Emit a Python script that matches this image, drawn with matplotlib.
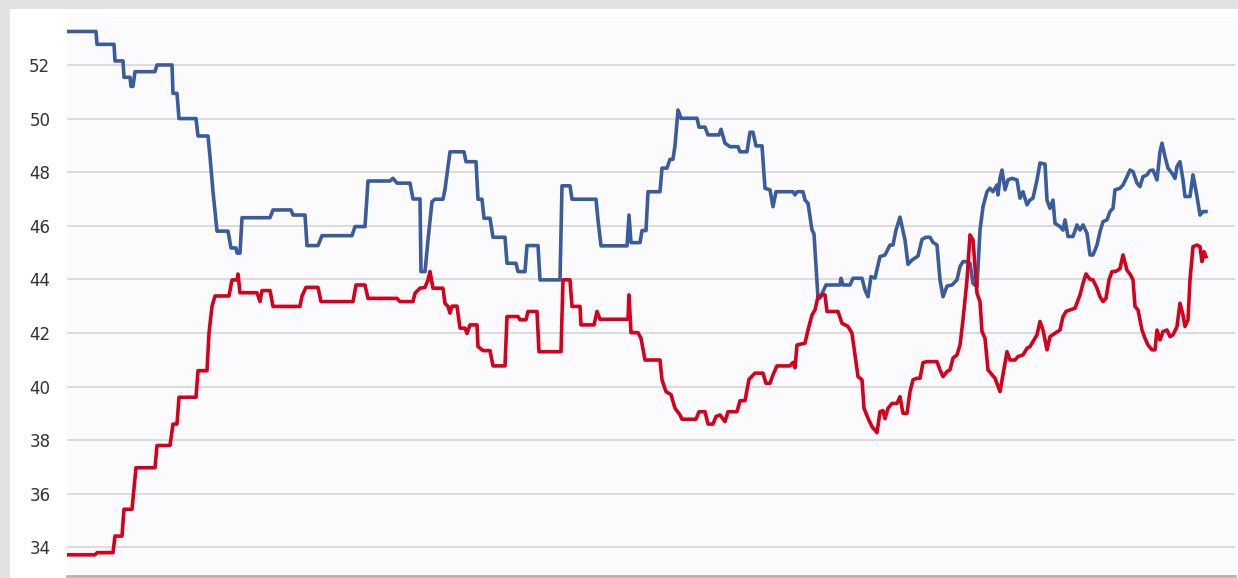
import matplotlib.pyplot as plt
from matplotlib.patches import Rectangle

# day index along the x axis
blue_days = [0, 29, 30, 47, 48, 56, 57, 63, 64, 66, 68, 88, 90, 105, 106, 110, 112, 129, 131, 141,
             143, 146, 150, 161, 164, 169, 170, 173, 175, 203, 206, 224, 226, 238, 240, 251, 255, 285,
             288, 298, 301, 323, 326, 330, 343, 346, 353, 354, 358, 361, 365, 368, 376, 378, 383, 397,
             399, 409, 411, 415, 417, 423, 426, 438, 440, 449, 451, 458, 460, 471, 473, 493, 495, 503,
             505, 529, 531, 534, 560, 562, 564, 573, 575, 579, 581, 593, 595, 600, 603, 606, 608, 611,
             614, 630, 632, 638, 641, 652, 654, 658, 663, 671, 673, 680, 683, 686, 689, 695, 698, 703,
             706, 709, 726, 728, 730, 736, 738, 741, 745, 747, 751, 753, 759, 773, 774, 776, 783, 786,
             795, 798, 801, 804, 808, 813, 818, 823, 826, 829, 833, 838, 841, 845, 851, 855, 859, 863,
             866, 870, 873, 876, 880, 885, 890, 893, 896, 900, 903, 906, 910, 913, 916, 920, 923, 926,
             930, 931, 933, 935, 938, 941, 945, 950, 953, 956, 960, 963, 966, 970, 973, 978, 980, 983,
             986, 988, 993, 996, 998, 1001, 1006, 1010, 1013, 1016, 1020, 1023, 1026, 1030, 1033, 1036,
             1040, 1043, 1046, 1048, 1053, 1056, 1060, 1063, 1066, 1070, 1073, 1076, 1080, 1083, 1086,
             1090, 1093, 1095, 1098, 1101, 1105, 1108, 1110, 1113, 1116, 1118, 1123, 1126, 1130, 1133,
             1136, 1139]
blue = [53.25, 53.25, 52.77, 52.77, 52.15, 52.15, 51.54, 51.54, 51.2, 51.2, 51.75, 51.75, 52.0, 52.0,
        50.94, 50.94, 50.0, 50.0, 49.35, 49.35, 48.58, 47.27, 45.8, 45.8, 45.17, 45.17, 44.98, 44.98,
        46.3, 46.3, 46.59, 46.59, 46.4, 46.4, 45.26, 45.26, 45.63, 45.63, 45.97, 45.97, 47.67, 47.67,
        47.77, 47.59, 47.59, 47.0, 47.0, 44.29, 44.29, 45.47, 46.9, 46.99, 46.99, 47.36, 48.76, 48.76,
        48.39, 48.39, 46.99, 46.99, 46.28, 46.28, 45.57, 45.57, 44.6, 44.6, 44.29, 44.29, 45.26, 45.26,
        43.98, 43.98, 47.49, 47.49, 46.99, 46.99, 46.22, 45.25, 45.25, 46.4, 45.37, 45.37, 45.82, 45.82,
        47.27, 47.27, 48.15, 48.15, 48.48, 48.48, 48.99, 50.32, 50.01, 50.01, 49.68, 49.68, 49.39, 49.39,
        49.6, 49.08, 48.95, 48.95, 48.76, 48.76, 49.49, 49.49, 48.98, 48.98, 47.4, 47.34, 46.71, 47.27,
        47.27, 47.15, 47.27, 47.27, 46.96, 46.84, 45.84, 45.7, 43.3, 43.3, 43.79, 43.79, 44.04, 43.79,
        43.79, 44.04, 44.04, 43.6, 43.35, 44.1, 44.05, 44.85, 44.91, 45.28, 45.28, 45.84, 46.32, 45.47,
        44.56, 44.72, 44.87, 45.49, 45.57, 45.57, 45.38, 45.28, 43.98, 43.35, 43.75, 43.79, 43.98, 44.48,
        44.66, 44.66, 44.6, 43.85, 43.73, 45.84, 46.71, 47.27, 47.4, 47.27, 47.52, 47.15, 47.77, 48.08,
        47.34, 47.71, 47.77, 47.71, 47.03, 47.27, 46.78, 46.96, 47.03, 47.71, 48.34, 48.3, 46.96, 46.65,
        46.96, 46.09, 45.97, 45.84, 46.22, 45.6, 45.6, 46.03, 45.84, 46.03, 45.72, 44.91, 44.91, 45.28,
        45.78, 46.15, 46.22, 46.53, 46.65, 47.34, 47.4, 47.52, 47.83, 48.08, 48.02, 47.59, 47.46, 47.83,
        47.9, 48.06, 48.08, 47.71, 48.76, 49.08, 48.58, 48.15, 47.96, 47.77, 48.21, 48.39, 47.71, 47.09,
        47.09, 47.9, 47.09, 46.4, 46.53, 46.53]

red_days = [0, 28, 30, 46, 48, 55, 57, 65, 69, 88, 90, 103, 106, 110, 112, 129, 131, 140, 142, 145,
            148, 162, 165, 170, 171, 173, 190, 193, 195, 203, 206, 233, 235, 239, 251, 254, 286, 289,
            298, 301, 330, 333, 346, 348, 353, 358, 361, 363, 366, 376, 378, 381, 383, 385, 390, 393,
            398, 400, 403, 410, 411, 416, 423, 426, 438, 440, 451, 453, 459, 461, 470, 472, 494, 496,
            503, 505, 513, 514, 527, 530, 533, 561, 562, 564, 571, 574, 578, 593, 595, 599, 604, 608,
            613, 615, 629, 632, 638, 641, 646, 649, 653, 658, 661, 670, 673, 678, 682, 688, 696, 699,
            703, 706, 710, 723, 726, 728, 730, 738, 741, 745, 748, 751, 755, 758, 760, 771, 775, 781,
            785, 791, 795, 797, 801, 805, 810, 813, 816, 818, 821, 825, 830, 833, 836, 840, 843, 846,
            850, 853, 856, 860, 870, 873, 876, 880, 883, 886, 890, 893, 896, 900, 903, 906, 910, 913,
            915, 918, 921, 925, 928, 933, 936, 940, 943, 948, 951, 956, 960, 963, 966, 970, 973, 976,
            980, 983, 988, 993, 996, 999, 1003, 1008, 1013, 1016, 1019, 1023, 1026, 1030, 1033, 1036,
            1039, 1042, 1045, 1049, 1053, 1056, 1060, 1063, 1066, 1068, 1071, 1075, 1078, 1081, 1085,
            1088, 1090, 1093, 1096, 1100, 1103, 1106, 1110, 1113, 1116, 1118, 1121, 1123, 1126, 1130,
            1133, 1135, 1137, 1139]
red = [33.72, 33.72, 33.8, 33.8, 34.42, 34.42, 35.42, 35.42, 36.97, 36.97, 37.8, 37.8, 38.6, 38.6,
       39.6, 39.6, 40.59, 40.59, 41.99, 42.99, 43.38, 43.38, 43.98, 43.98, 44.2, 43.5, 43.5, 43.17,
       43.58, 43.58, 42.99, 42.99, 43.38, 43.7, 43.7, 43.17, 43.17, 43.79, 43.79, 43.29, 43.29, 43.17,
       43.17, 43.48, 43.67, 43.7, 43.98, 44.29, 43.67, 43.67, 43.1, 42.99, 42.74, 43.0, 43.0, 42.18,
       42.18, 41.98, 42.3, 42.3, 41.49, 41.34, 41.34, 40.77, 40.77, 42.61, 42.61, 42.49, 42.49, 42.8,
       42.8, 41.3, 41.3, 43.98, 43.98, 42.99, 42.99, 42.3, 42.3, 42.8, 42.51, 42.51, 43.42, 42.01,
       42.01, 41.8, 40.99, 40.99, 40.25, 39.81, 39.7, 39.19, 38.94, 38.78, 38.78, 39.06, 39.06, 38.6,
       38.6, 38.88, 38.94, 38.69, 39.06, 39.06, 39.47, 39.47, 40.27, 40.5, 40.5, 40.12, 40.12, 40.44,
       40.77, 40.77, 40.9, 40.7, 41.55, 41.62, 42.11, 42.67, 42.86, 43.35, 43.42, 43.42, 42.8, 42.8,
       42.36, 42.24, 41.99, 40.37, 40.25, 39.19, 38.82, 38.5, 38.28, 39.06, 39.1, 38.8, 39.19, 39.37,
       39.37, 39.62, 39.0, 39.0, 39.81, 40.25, 40.31, 40.31, 40.89, 40.93, 40.93, 40.62, 40.37, 40.56,
       40.62, 41.06, 41.18, 41.55, 42.49, 43.98, 45.66, 45.47, 43.48, 43.17, 42.05, 41.8, 40.62, 40.44,
       40.31, 39.81, 40.44, 41.3, 40.99, 40.99, 41.12, 41.18, 41.43, 41.49, 41.68, 41.93, 42.43, 42.11,
       41.37, 41.86, 41.99, 42.11, 42.61, 42.8, 42.86, 42.92, 43.42, 43.85, 44.2, 44.0, 43.98, 43.67,
       43.35, 43.17, 43.29, 43.98, 44.29, 44.3, 44.4, 44.91, 44.34, 44.2, 43.98, 42.99, 42.86, 42.11,
       41.8, 41.55, 41.37, 41.37, 42.11, 41.74, 42.05, 42.11, 41.86, 41.93, 42.24, 43.11, 42.67, 42.24,
       42.49, 43.98, 45.22, 45.28, 45.22, 44.66, 45.03, 44.85]

y_ticks = [34, 36, 38, 40, 42, 44, 46, 48, 50, 52]

W, H = 1238, 578
fig = plt.figure(figsize=(W / 100, H / 100), dpi=100)
fig.patch.set_facecolor('white')

# grey frame at top and left of the screenshot
fig.add_artist(Rectangle((0, 1 - 9 / H), 1, 9 / H, transform=fig.transFigure,
                         facecolor='#e2e2e2', edgecolor='none'))
fig.add_artist(Rectangle((0, 0), 10 / W, 1, transform=fig.transFigure,
                         facecolor='#e2e2e2', edgecolor='none'))

ax = fig.add_axes([67 / W, 2 / H, (1235 - 67) / W, (576 - 17) / H])
ax.set_facecolor('#fbfbfe')

ax.plot(blue_days, blue, color='#3b5c9c', lw=2.6, solid_joinstyle='round')
ax.plot(red_days, red, color='#d6001c', lw=2.6, solid_joinstyle='round')

ax.set_xlim(0, 1168)
ax.set_ylim(32.93, 53.79)
ax.set_yticks(y_ticks)
ax.set_yticklabels([str(t) for t in y_ticks], fontsize=12, color='#333333', family='DejaVu Sans')
ax.set_xticks([])
ax.tick_params(axis='y', length=0, pad=12)
ax.grid(axis='y', color='#d9d9d9', lw=1.3)
ax.set_axisbelow(True)

for side in ['top', 'right', 'left']:
    ax.spines[side].set_visible(False)
ax.spines['bottom'].set_color('#b4b4b4')
ax.spines['bottom'].set_linewidth(2)

fig.savefig('out.png', dpi=100)
